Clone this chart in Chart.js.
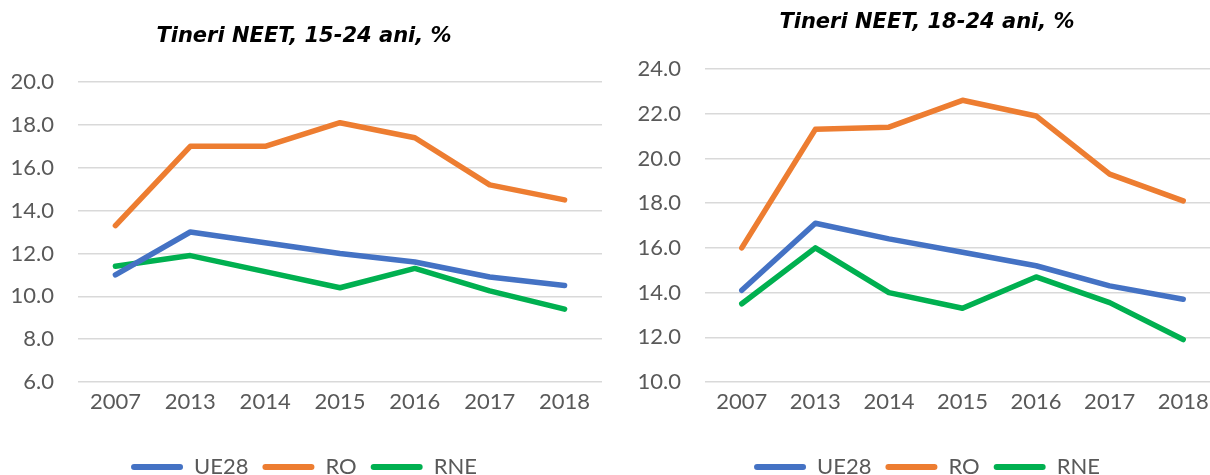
<!DOCTYPE html>
<html>
<head>
<meta charset="utf-8">
<script src="https://cdn.jsdelivr.net/npm/chart.js@4/dist/chart.umd.min.js"></script>
<style>
  html, body { margin: 0; padding: 0; background: #fff; overflow: hidden; }
  body { width: 1210px; height: 475px; position: relative; }
  .panel { position: absolute; top: 0; height: 488px; }
  #p1 { left: 0; width: 602px; }
  #p2 { left: 600px; width: 620px; }
</style>
</head>
<body>
<div class="panel" id="p1"><canvas id="grafic1"></canvas></div>
<div class="panel" id="p2"><canvas id="grafic2"></canvas></div>
<script>
// Ani
const ani = ["2007", "2013", "2014", "2015", "2016", "2017", "2018"];

// Tineri NEET 15-24 ani
const ue28_1524 = [11.0, 13.0, 12.5, 12.0, 11.6, 10.9, 10.5];
const ro_1524 = [13.3, 17.0, 17.0, 18.1, 17.4, 15.2, 14.5];
const rne_1524 = [11.4, 11.9, 11.15, 10.4, 11.3, 10.25, 9.4];

// Tineri NEET 18-24 ani
const ue28_1824 = [14.1, 17.1, 16.4, 15.8, 15.2, 14.3, 13.7];
const ro_1824 = [16.0, 21.3, 21.4, 22.6, 21.9, 19.3, 18.1];
const rne_1824 = [13.5, 16.0, 14.0, 13.3, 14.7, 13.55, 11.9];

const culori = { UE28: "#4472C4", RO: "#ED7D31", RNE: "#00B050" };

function serie(nume, valori) {
  return {
    label: nume,
    data: valori,
    borderColor: culori[nume],
    backgroundColor: culori[nume],
    borderWidth: 5.5,
    borderCapStyle: "round",
    borderJoinStyle: "round",
    tension: 0,
    pointRadius: 0,
    pointHoverRadius: 0
  };
}

function grafic(id, titlu, seturi, yMin, yMax, cfg) {
  new Chart(document.getElementById(id), {
    type: "line",
    data: { labels: ani, datasets: seturi },
    options: {
      responsive: true,
      maintainAspectRatio: false,
      animation: false,
      layout: { padding: { left: cfg.stanga, right: 0, top: 0, bottom: 0 } },
      plugins: {
        title: {
          display: true,
          text: titlu,
          color: "#000",
          font: { family: "DejaVu Sans", size: 21, weight: "bold", style: "italic" },
          padding: { top: cfg.titluSus, bottom: cfg.titluJos }
        },
        legend: {
          position: "bottom",
          labels: {
            color: "#595959",
            font: { family: "Lato", size: 22 },
            boxWidth: 52,
            boxHeight: 6,
            padding: 14,
            useBorderRadius: true,
            borderRadius: 3,
            generateLabels: (chart) => Chart.defaults.plugins.legend.labels.generateLabels(chart).map(e => {
              e.lineWidth = 0;
              e.fillStyle = e.strokeStyle;
              return e;
            })
          }
        },
        tooltip: { enabled: false }
      },
      scales: {
        x: {
          offset: true,
          grid: { display: false, drawTicks: false },
          border: { display: false },
          ticks: { color: "#595959", font: { family: "Lato", size: 22 }, padding: 7 },
          afterFit: (s) => { s.height = 60; }
        },
        y: {
          min: yMin,
          max: yMax,
          grid: { color: "#D9D9D9", lineWidth: 1.5, drawTicks: false },
          border: { display: false },
          ticks: {
            stepSize: 2,
            color: "#595959",
            font: { family: "Lato", size: 22 },
            padding: 24,
            callback: (v) => v.toFixed(1)
          },
          afterFit: (s) => { s.width = cfg.latime; }
        }
      }
    }
  });
}

grafic("grafic1", "Tineri NEET, 15-24 ani, %",
  [serie("UE28", ue28_1524), serie("RO", ro_1524), serie("RNE", rne_1524)],
  6, 20, { stanga: 6, latime: 72, titluSus: 24, titluJos: 32.8 });

grafic("grafic2", "Tineri NEET, 18-24 ani, %",
  [serie("UE28", ue28_1824), serie("RO", ro_1824), serie("RNE", rne_1824)],
  10, 24, { stanga: 34, latime: 71, titluSus: 10, titluJos: 33.8 });
</script>
</body>
</html>
